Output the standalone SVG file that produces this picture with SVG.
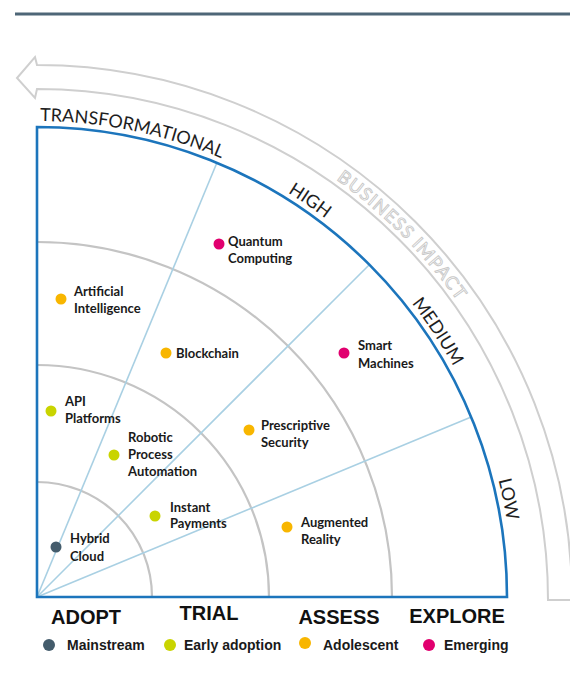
<svg xmlns="http://www.w3.org/2000/svg" width="570" height="699" viewBox="0 0 570 699">
<style>
.grid{fill:none;stroke:#c4c4c4;stroke-width:2.2}
.spoke{fill:none;stroke:#a9d0e3;stroke-width:1.6}
.frame{fill:none;stroke:#1c75bc;stroke-width:2.6}
.band{fill:#fff;stroke:#cfcfcf;stroke-width:2}
.imp{font-family:Lato,"Liberation Sans",sans-serif;font-size:18px;fill:#1e1e1e}
.biz{font-family:Lato,"Liberation Sans",sans-serif;font-size:18px;fill:#fff;stroke:#c8c8c8;stroke-width:0.9}
.lbl{font-family:Lato,"Liberation Sans",sans-serif;font-weight:700;font-size:13px;fill:#1a1a1a}
.axis{font-family:"Liberation Sans",Arial,sans-serif;font-weight:700;font-size:20px;fill:#111}
.leg{font-family:"Liberation Sans",Arial,sans-serif;font-weight:700;font-size:14px;fill:#1a1a1a}
.main{fill:#445c6c}.early{fill:#c9d400}.adol{fill:#f8b600}.emer{fill:#e1006f}
</style>
<defs>
<path id="impArc" d="M37,121 A476,476 0 0 1 513,597"/>
<path id="bizArc" d="M37,84 A516,516 0 0 1 553,600"/>
</defs>
<rect x="0" y="0" width="570" height="699" fill="#fff"/>
<line x1="15" y1="14" x2="570" y2="14" stroke="#4e6677" stroke-width="3"/>
<g id="impact-band">
<path class="band" d="M548,600 L572,600 A535,535 0 0 0 37,65 L35,57 L17,78 L35,98 L37,89 A511,511 0 0 1 548,600 Z"/>
<text class="biz"><textPath href="#bizArc" startOffset="50%" text-anchor="middle" textLength="172" lengthAdjust="spacing">BUSINESS IMPACT</textPath></text>
</g>
<g id="grid">
<path class="grid" d="M37,482 A115,115 0 0 1 152,597"/>
<path class="grid" d="M37,365 A232,232 0 0 1 269,597"/>
<path class="grid" d="M37,242 A355,355 0 0 1 392,597"/>
</g>
<g id="connectors">
<line class="spoke" x1="37" y1="597" x2="216.9" y2="162.8"/>
<line class="spoke" x1="37" y1="597" x2="369.3" y2="264.7"/>
<line class="spoke" x1="37" y1="597" x2="471.2" y2="417.1"/>
</g>
<g id="frame">
<path class="frame" d="M37,127 A470,470 0 0 1 507,597 L37,597 Z"/>
</g>
<g id="impact-labels">
<text class="imp"><textPath href="#impArc" startOffset="3">TRANSFORMATIONAL</textPath></text>
<text class="imp"><textPath href="#impArc" startOffset="287" text-anchor="middle">HIGH</textPath></text>
<text class="imp"><textPath href="#impArc" startOffset="469" text-anchor="middle">MEDIUM</textPath></text>
<text class="imp"><textPath href="#impArc" startOffset="650" text-anchor="middle">LOW</textPath></text>
</g>
<g id="quantum-computing"><circle class="emer" cx="219" cy="244" r="5.5"/><text class="lbl" x="228" y="246">Quantum<tspan x="228" y="263">Computing</tspan></text></g>
<g id="artificial-intelligence"><circle class="adol" cx="61" cy="299" r="5.5"/><text class="lbl" x="74" y="296">Artificial<tspan x="74" y="313">Intelligence</tspan></text></g>
<g id="blockchain"><circle class="adol" cx="166" cy="353" r="5.5"/><text class="lbl" x="176" y="358">Blockchain</text></g>
<g id="smart-machines"><circle class="emer" cx="344" cy="353" r="5.5"/><text class="lbl" x="358" y="350">Smart<tspan x="358" y="368">Machines</tspan></text></g>
<g id="prescriptive-security"><circle class="adol" cx="249" cy="430" r="5.5"/><text class="lbl" x="261" y="430">Prescriptive<tspan x="261" y="447">Security</tspan></text></g>
<g id="augmented-reality"><circle class="adol" cx="287" cy="527" r="5.5"/><text class="lbl" x="301" y="527">Augmented<tspan x="301" y="544">Reality</tspan></text></g>
<g id="api-platforms"><circle class="early" cx="51" cy="411" r="5.5"/><text class="lbl" x="65" y="406">API<tspan x="65" y="423">Platforms</tspan></text></g>
<g id="robotic-process-automation"><circle class="early" cx="114" cy="455" r="5.5"/><text class="lbl" x="128" y="442">Robotic<tspan x="128" y="459">Process</tspan><tspan x="128" y="476">Automation</tspan></text></g>
<g id="instant-payments"><circle class="early" cx="155" cy="516" r="5.5"/><text class="lbl" x="170" y="512">Instant<tspan x="170" y="528">Payments</tspan></text></g>
<g id="hybrid-cloud"><circle class="main" cx="56" cy="547" r="5.5"/><text class="lbl" x="70" y="543">Hybrid<tspan x="70" y="561">Cloud</tspan></text></g>
<g id="axis-labels">
<text class="axis" x="86" y="624" text-anchor="middle">ADOPT</text>
<text class="axis" x="209" y="620" text-anchor="middle">TRIAL</text>
<text class="axis" x="339" y="624" text-anchor="middle">ASSESS</text>
<text class="axis" x="457" y="623" text-anchor="middle">EXPLORE</text>
</g>
<g id="legend">
<circle class="main" cx="49" cy="645" r="6"/><text class="leg" x="67" y="650">Mainstream</text>
<circle class="early" cx="170" cy="645" r="6"/><text class="leg" x="184" y="650">Early adoption</text>
<circle class="adol" cx="305" cy="643" r="6"/><text class="leg" x="323" y="650">Adolescent</text>
<circle class="emer" cx="429" cy="645" r="6"/><text class="leg" x="444" y="650">Emerging</text>
</g>
</svg>
